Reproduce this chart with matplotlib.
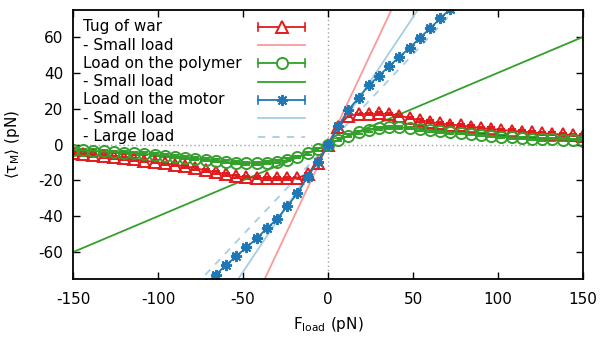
"""Motor torque vs. load force: tug of war, load on polymer, load on motor."""

import matplotlib

matplotlib.use("Agg")

import matplotlib.pyplot as plt  # noqa: E402

# load force grid (pN) for the tug-of-war and polymer-load runs
load = [-150, -144, -138, -132, -126, -120, -114, -108, -102, -96, -90, -84, -78,
        -72, -66, -60, -54, -48, -42, -36, -30, -24, -18, -12, -6, 0,
        6, 12, 18, 24, 30, 36, 42, 48, 54, 60, 66, 72, 78, 84, 90, 96,
        102, 108, 114, 120, 126, 132, 138, 144, 150]

tug_of_war = [-5.0, -5.5, -6.0, -6.6, -7.1, -7.7, -8.3, -9.0, -9.7, -10.5, -11.3, -12.2, -13.2,
              -14.4, -15.4, -16.6, -17.6, -18.3, -18.6, -18.8, -18.8, -18.8, -18.7, -16.5, -10.5, 0.0,
              10.0, 16.1, 17.0, 17.0, 17.3, 17.0, 16.1, 14.8, 13.6, 12.6, 11.8, 11.1, 10.6, 10.0, 9.2, 8.7,
              8.1, 7.7, 7.2, 6.8, 6.3, 5.9, 5.6, 5.3, 4.8]

polymer_load = [-3.0, -3.3, -3.5, -3.9, -4.2, -4.5, -4.8, -5.2, -5.7, -6.2, -6.7, -7.3, -7.9,
                -8.4, -9.0, -9.7, -10.2, -10.4, -10.4, -10.2, -9.7, -8.6, -7.0, -5.0, -2.6, 0.0,
                2.6, 4.9, 6.9, 8.0, 9.0, 9.5, 9.5, 9.2, 8.6, 8.0, 7.3, 6.8, 6.4, 6.0, 5.4, 4.9,
                4.4, 4.0, 3.6, 3.3, 3.0, 2.9, 2.7, 2.5, 2.2]

# load on the motor: only the central part falls inside the y-range
motor_load_x = [-72, -66, -60, -54, -48, -42, -36, -30, -24, -18, -12, -6, 0,
                6, 12, 18, 24, 30, 36, 42, 48, 54, 60, 66, 72]
motor_load = [-78.0, -72.5, -67.3, -62.3, -57.4, -52.4, -46.8, -41.6, -34.4, -27.3, -18.0, -9.6, 0.0,
              10.2, 19.4, 26.0, 33.0, 38.4, 43.7, 48.9, 53.9, 59.5, 64.7, 70.3, 75.8]

# small/large load linear predictions (end points of the straight lines)
fit_x = [-150, 150]
tug_small = [-302, 302]
polymer_small = [-60, 60]
motor_small = [-213, 213]
motor_large = [-151, 151]

err = 0.8  # typical error bar half-width (pN)

RED, RED_LIGHT = "#e31a1c", "#fb9a99"
GREEN = "#33a02c"
BLUE, BLUE_LIGHT = "#1f78b4", "#a6cee3"
ASTERISK = (8, 2, 0)

plt.rcParams["axes.unicode_minus"] = False
plt.rcParams["font.size"] = 11
plt.rcParams["mathtext.default"] = "regular"

fig = plt.figure(figsize=(6.0, 3.37), dpi=100)
ax = fig.add_axes([0.1217, 0.1721, 0.85, 0.7982])

ax.axhline(0, color="#a0a0a0", ls=(0, (1, 2)), lw=1, zorder=0)
ax.axvline(0, color="#a0a0a0", ls=(0, (1, 2)), lw=1, zorder=0)

data_kw = dict(lw=1.3, ms=8, mew=1.4, mfc="none", capsize=3, elinewidth=1.2, capthick=1.2)
ax.errorbar(load, tug_of_war, yerr=err, color=RED, marker="^", **data_kw)
ax.plot(fit_x, tug_small, color=RED_LIGHT, lw=1.3)
ax.errorbar(load, polymer_load, yerr=err, color=GREEN, marker="o", **data_kw)
ax.plot(fit_x, polymer_small, color=GREEN, lw=1.3)
ax.errorbar(motor_load_x, motor_load, yerr=err, color=BLUE, marker=ASTERISK, **data_kw)
ax.plot(fit_x, motor_small, color=BLUE_LIGHT, lw=1.3)
ax.plot(fit_x, motor_large, color=BLUE_LIGHT, lw=1.3, ls=(0, (4, 4)))

ax.set_xlim(-150, 150)
ax.set_ylim(-75, 75)
ax.set_xticks([-150, -100, -50, 0, 50, 100, 150])
ax.set_yticks([-60, -40, -20, 0, 20, 40, 60])
ax.tick_params(direction="in", length=5, width=1, top=True, right=True)
ax.tick_params(axis="x", pad=9)
ax.tick_params(axis="y", pad=7)
for spine in ax.spines.values():
    spine.set_linewidth(1.3)

ax.set_xlabel("F$_{load}$ (pN)")
ax.set_ylabel(r"$\langle\tau_{M}\rangle$ (pN)")
ax.xaxis.set_label_coords(0.5, -0.135)
ax.yaxis.set_label_coords(-0.1, 0.5)

# gnuplot-style key: label left, sample right
entries = [
    ("Tug of war", RED, "-", "^", True),
    ("- Small load", RED_LIGHT, "-", None, False),
    ("Load on the polymer", GREEN, "-", "o", True),
    ("- Small load", GREEN, "-", None, False),
    ("Load on the motor", BLUE, "-", ASTERISK, True),
    ("- Small load", BLUE_LIGHT, "-", None, False),
    ("- Large load", BLUE_LIGHT, (0, (4, 4)), None, False),
]
tx, x1, x2 = 0.020, 0.363, 0.455
y0, dy, cap = 0.938, 0.0681, 0.015
for row, (label, color, ls, marker, caps) in enumerate(entries):
    y = y0 - row * dy
    ax.text(tx, y, label, transform=ax.transAxes, va="center", ha="left")
    ax.plot([x1, x2], [y, y], transform=ax.transAxes, color=color, ls=ls, lw=1.3)
    if caps:
        for xc in (x1, x2):
            ax.plot([xc, xc], [y - cap, y + cap], transform=ax.transAxes, color=color, lw=1.2)
    if marker is not None:
        ax.plot([(x1 + x2) / 2], [y], transform=ax.transAxes, color=color, marker=marker,
                ms=8, mew=1.4, mfc="white")

fig.savefig("out.png", dpi=100)
plt.close(fig)
